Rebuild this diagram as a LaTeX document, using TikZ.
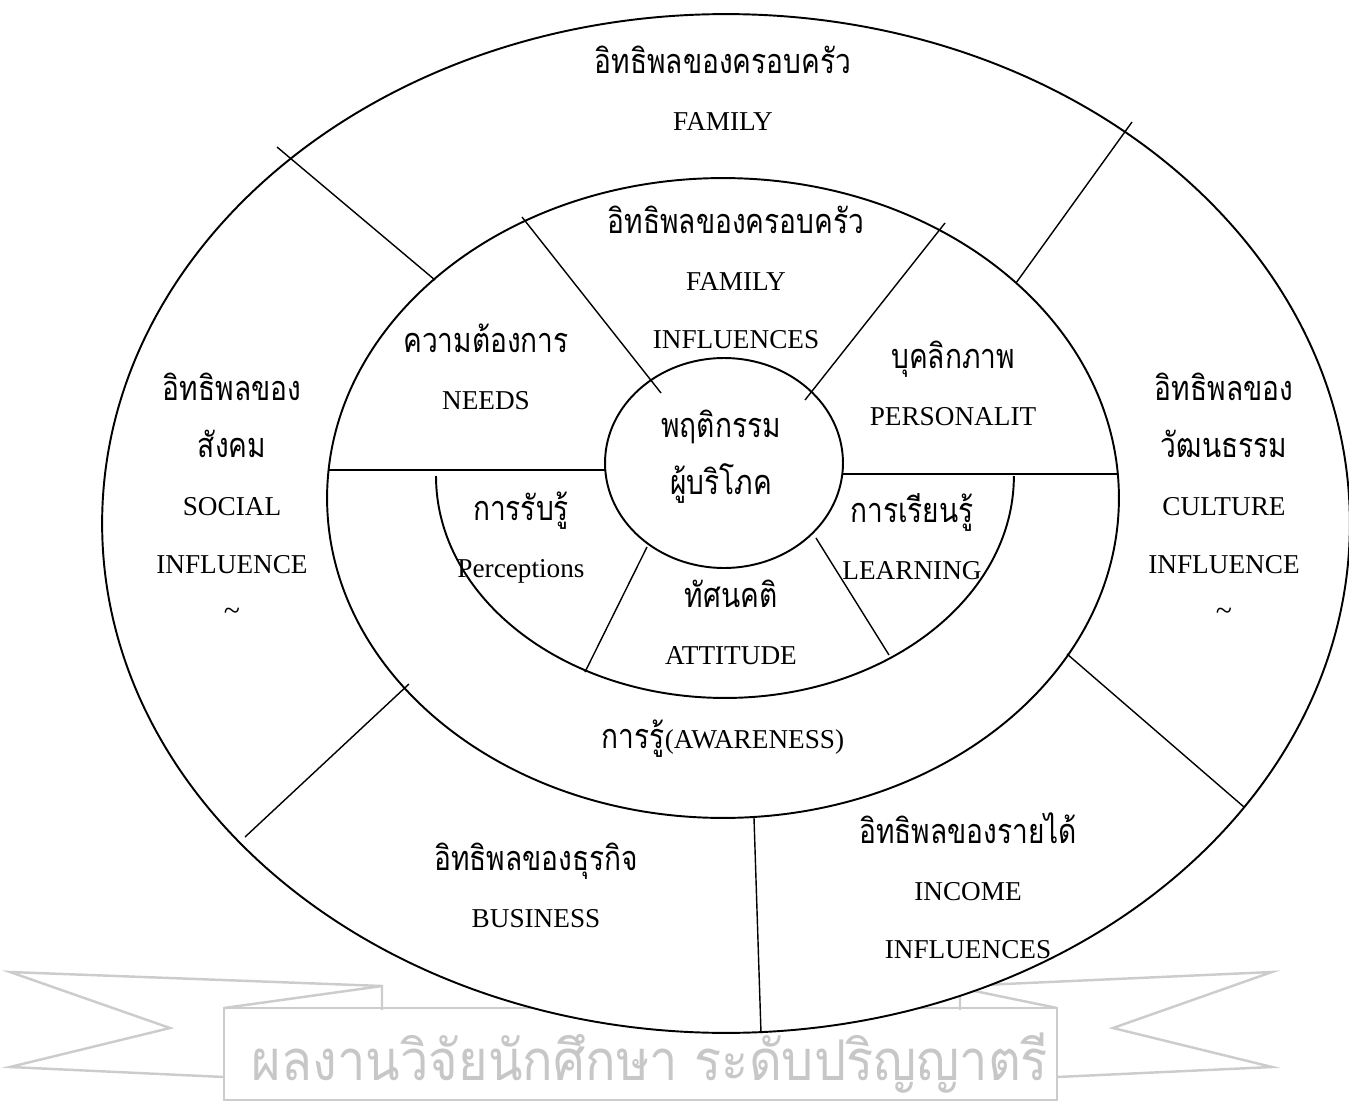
\documentclass[tikz,border=0pt]{standalone}
\usepackage{fontspec}
\setmainfont{Liberation Serif}
\newfontfamily\thaifont[Script=Thai,FakeStretch=0.82]{Loma}
\newfontfamily\wmfont[Script=Thai,FakeStretch=0.9]{Loma}
\usetikzlibrary{positioning}
\tikzstyle{ring} = [line width=1.1pt]
\tikzstyle{spoke} = [line width=0.8pt]
\tikzstyle{bar} = [line width=1.6pt]
\tikzstyle{lbl} = [inner sep=0pt, anchor=base, font=\fontsize{15.5}{18}\selectfont]
\tikzstyle{thlbl} = [inner sep=0pt, anchor=base, font=\thaifont\fontsize{19.5}{22}\selectfont]
\tikzstyle{cutlbl} = [inner sep=0pt, font=\fontsize{17}{20}\selectfont]
\tikzstyle{wmline} = [draw=black!20, line width=1.4pt, line join=miter]

\begin{document}
\begin{tikzpicture}[x=0.02cm, y=-0.02cm, node distance=1.16cm]
    \useasboundingbox (0,0) rectangle (1349,1102);

    % watermark banner
    \draw [wmline] (224,1077) -- (10,1067) -- (170,1028) -- (10,972) -- (382,986) -- (382,1010);
    \draw [wmline] (224,1008) -- (382,986);
    \draw [wmline] (1057,1077) -- (1272,1067) -- (1113,1028) -- (1272,972) -- (960,986) -- (960,1010);
    \draw [wmline] (1057,1008) -- (960,988);
    \draw [wmline] (224,1100) -- (224,1008) -- (1057,1008) -- (1057,1100) -- cycle;
    \node (wmtext) [inner sep=0pt, anchor=base, text=black!22, font=\wmfont\fontsize{32}{36}\selectfont] at (650,1080) {ผลงานวิจัยนักศึกษา ระดับปริญญาตรี};

    % rings
    \filldraw [ring, fill=white] (726,523.5) ellipse [x radius=12.48cm, y radius=10.19cm];
    \draw [ring] (723,498) ellipse [x radius=7.92cm, y radius=6.4cm];
    \draw [ring] (436,476) arc [start angle=180, end angle=360, x radius=5.78cm, y radius=4.44cm];
    \draw [ring] (724,463) ellipse [x radius=2.38cm, y radius=2.1cm];

    % dividers
    \draw [bar] (328,470) -- (605,470);
    \draw [bar] (842,474) -- (1118,474);
    \draw [spoke] (522,217) -- (661,393);
    \draw [spoke] (945,223) -- (805,400);
    \draw [spoke] (277,147) -- (435,280);
    \draw [spoke] (1132,122) -- (1016,283);
    \draw [spoke] (409,684) -- (245,837);
    \draw [spoke] (1067,654) -- (1244,807);
    \draw [spoke] (647,547) -- (585,672);
    \draw [spoke] (816,538) -- (889,655);
    \draw [spoke] (754,818) -- (761,1033);

    % outer ring
    \node (famth) [thlbl] at (723,73) {อิทธิพลของครอบครัว};
    \node (famen) [lbl, below=of famth.base, anchor=base] {FAMILY};
    \node (socth) [thlbl] at (232,400) {อิทธิพลของ};
    \node (socth2) [thlbl, below=of socth.base, anchor=base] {สังคม};
    \node (socen) [lbl, below=of socth2.base, anchor=base] {SOCIAL};
    \node (socin) [lbl, below=of socen.base, anchor=base] {INFLUENCE};
    \node (soccut) [cutlbl] at (232,614) {\textasciitilde};
    \node (culth) [thlbl] at (1224,400) {อิทธิพลของ};
    \node (culth2) [thlbl, below=of culth.base, anchor=base] {วัฒนธรรม};
    \node (culen) [lbl, below=of culth2.base, anchor=base] {CULTURE};
    \node (culin) [lbl, below=of culen.base, anchor=base] {INFLUENCE};
    \node (culcut) [cutlbl] at (1224,614) {\textasciitilde};
    \node (busth) [thlbl] at (536,870) {อิทธิพลของธุรกิจ};
    \node (busen) [lbl, below=of busth.base, anchor=base] {BUSINESS};
    \node (incth) [thlbl] at (968,843) {อิทธิพลของรายได้};
    \node (incen) [lbl, below=of incth.base, anchor=base] {INCOME};
    \node (incin) [lbl, below=of incen.base, anchor=base] {INFLUENCES};

    % middle ring
    \node (famth2) [thlbl] at (736,233) {อิทธิพลของครอบครัว};
    \node (famen2) [lbl, below=of famth2.base, anchor=base] {FAMILY};
    \node (famin) [lbl, below=of famen2.base, anchor=base] {INFLUENCES};
    \node (needth) [thlbl] at (486,352) {ความต้องการ};
    \node (needen) [lbl, below=of needth.base, anchor=base] {NEEDS};
    \node (persth) [thlbl] at (953,368) {บุคลิกภาพ};
    \node (persen) [lbl, below=of persth.base, anchor=base] {PERSONALIT};
    \node (aware) [thlbl] at (723,748) {การรู้\normalfont\fontsize{15.5}{18}\selectfont(AWARENESS)};

    % inner ring
    \node (consth) [thlbl] at (721,437) {พฤติกรรม};
    \node (consth2) [thlbl, below=of consth.base, anchor=base] {ผู้บริโภค};
    \node (percth) [thlbl] at (521,520) {การรับรู้};
    \node (percen) [lbl, below=of percth.base, anchor=base] {Perceptions};
    \node (learnth) [thlbl] at (912,522) {การเรียนรู้};
    \node (learnen) [lbl, below=of learnth.base, anchor=base] {LEARNING};
    \node (attth) [thlbl] at (731,607) {ทัศนคติ};
    \node (atten) [lbl, below=of attth.base, anchor=base] {ATTITUDE};
\end{tikzpicture}
\end{document}
